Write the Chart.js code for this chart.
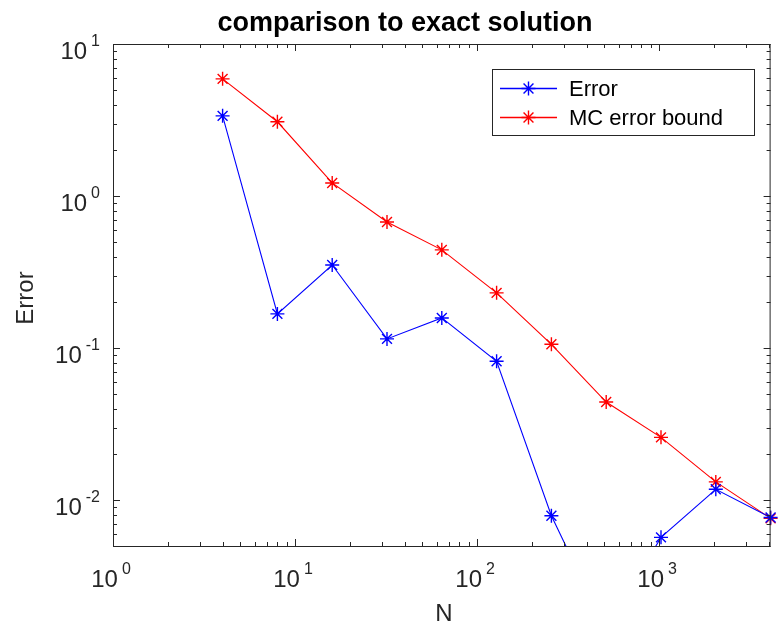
<!DOCTYPE html>
<html>
<head>
<meta charset="utf-8">
<script src="https://cdn.jsdelivr.net/npm/chart.js@4/dist/chart.umd.min.js"></script>
<style>
  html, body { margin: 0; padding: 0; background: #fff; }
  #wrap { width: 779px; height: 625px; }
</style>
</head>
<body>
<div id="wrap"><canvas id="errChart" width="779" height="625"></canvas></div>
<script>
// sample sizes and the two error curves
const nValues = [4, 8, 16, 32, 64, 128, 256, 512, 1024, 2048, 4096];
const errorValues = [3.37, 0.168, 0.352, 0.115, 0.158, 0.082, 0.0079, 0.0014, 0.0057, 0.0118, 0.0077];
const boundValues = [5.9, 3.08, 1.22, 0.676, 0.443, 0.231, 0.106, 0.0442, 0.0259, 0.0132, 0.0076];
const seriesLabels = ['Error', 'MC error bound'];
const seriesColors = ['#0000ff', '#ff0000'];

const xExponents = [0, 1, 2, 3];
const yExponents = [1, 0, -1, -2];
const xRange = [1, 4096];
const yRange = [0.005, 10];

const FONT = '"Liberation Sans", Arial, Helvetica, sans-serif';
const AXIS_COLOR = '#262626';

// "10" with a raised exponent, anchored by align ('center' or 'right')
function drawPow(ctx, exp, x, baseline, align) {
    ctx.font = '24px ' + FONT;
    const baseW = ctx.measureText('10').width;
    ctx.font = '16px ' + FONT;
    const expW = ctx.measureText(String(exp)).width;
    const gap = 4;
    const total = baseW + gap + expW;
    let left = align === 'right' ? x - total : x - total / 2;
    ctx.textAlign = 'left';
    ctx.textBaseline = 'alphabetic';
    ctx.font = '24px ' + FONT;
    ctx.fillText('10', left, baseline);
    ctx.font = '16px ' + FONT;
    ctx.fillText(String(exp), left + baseW + gap, baseline - 13);
}

function logTickValues(lo, hi) {
    const out = [];
    for (let e = Math.floor(Math.log10(lo)); e <= Math.ceil(Math.log10(hi)); e++) {
        for (let m = 1; m <= 9; m++) {
            const v = m * Math.pow(10, e);
            if (v >= lo * 0.9999 && v <= hi * 1.0001) out.push({ v: v, major: m === 1 });
        }
    }
    return out;
}

const axesFrame = {
    id: 'axesFrame',
    afterDraw(chart) {
        const ctx = chart.ctx;
        const a = chart.chartArea;
        const xs = chart.scales.x;
        const ys = chart.scales.y;
        ctx.save();

        // box
        ctx.strokeStyle = AXIS_COLOR;
        ctx.lineWidth = 1;
        ctx.strokeRect(a.left + 0.5, a.top + 0.5, a.right - a.left - 1, a.bottom - a.top);

        // inward ticks on all four sides
        ctx.beginPath();
        logTickValues(xRange[0], xRange[1]).forEach(t => {
            const px = Math.round(xs.getPixelForValue(t.v)) + 0.5;
            const len = t.major ? 7 : 4;
            ctx.moveTo(px, a.bottom); ctx.lineTo(px, a.bottom - len);
            ctx.moveTo(px, a.top); ctx.lineTo(px, a.top + len);
        });
        logTickValues(yRange[0], yRange[1]).forEach(t => {
            const py = Math.round(ys.getPixelForValue(t.v)) + 0.5;
            const len = t.major ? 7 : 4;
            ctx.moveTo(a.left, py); ctx.lineTo(a.left + len, py);
            ctx.moveTo(a.right, py); ctx.lineTo(a.right - len, py);
        });
        ctx.stroke();

        // tick labels
        ctx.fillStyle = AXIS_COLOR;
        xExponents.forEach(e => {
            drawPow(ctx, e, xs.getPixelForValue(Math.pow(10, e)) - 2, a.bottom + 41, 'center');
        });
        yExponents.forEach(e => {
            drawPow(ctx, e, a.left - 13, ys.getPixelForValue(Math.pow(10, e)) + 15, 'right');
        });

        // axis titles
        ctx.font = '24px ' + FONT;
        ctx.textAlign = 'center';
        ctx.textBaseline = 'alphabetic';
        ctx.fillText('N', 444, 621);
        ctx.save();
        ctx.translate(33, 298);
        ctx.rotate(-Math.PI / 2);
        ctx.fillText('Error', 0, 0);
        ctx.restore();

        // title
        ctx.fillStyle = '#000';
        ctx.font = 'bold 27px ' + FONT;
        ctx.fillText('comparison to exact solution', 405, 31);

        // legend
        const box = { x: 492.5, y: 69.5, w: 262, h: 66 };
        ctx.fillStyle = '#fff';
        ctx.fillRect(box.x, box.y, box.w, box.h);
        ctx.strokeStyle = AXIS_COLOR;
        ctx.lineWidth = 1;
        ctx.strokeRect(box.x, box.y, box.w, box.h);
        chart.data.datasets.forEach((ds, i) => {
            const cy = 88.5 + i * 29;
            ctx.strokeStyle = ds.borderColor;
            ctx.lineWidth = 1.3;
            ctx.beginPath();
            ctx.moveTo(500, cy); ctx.lineTo(557, cy);
            ctx.stroke();
            ctx.lineWidth = 1.4;
            Chart.helpers.drawPoint(ctx, { pointStyle: 'star', radius: 7, rotation: 0, borderWidth: 1.4 }, 528.5, cy);
            ctx.fillStyle = '#000';
            ctx.font = '22px ' + FONT;
            ctx.textAlign = 'left';
            ctx.textBaseline = 'middle';
            ctx.fillText(ds.label, 569, cy + 1);
        });
        ctx.restore();
    }
};

function makeSet(label, values, color) {
    return {
        label: label,
        data: nValues.map((n, i) => ({ x: n, y: values[i] })),
        borderColor: color,
        backgroundColor: color,
        borderWidth: 1.1,
        pointStyle: 'star',
        pointRadius: 7,
        pointBorderWidth: 1.4,
        pointBorderColor: color,
        tension: 0,
        clip: { left: 8, top: 8, right: 8, bottom: 0 }
    };
}

new Chart(document.getElementById('errChart'), {
    type: 'line',
    data: {
        datasets: [
            makeSet(seriesLabels[0], errorValues, seriesColors[0]),
            makeSet(seriesLabels[1], boundValues, seriesColors[1])
        ]
    },
    options: {
        responsive: false,
        animation: false,
        layout: { padding: { left: 113, right: 1, top: 44, bottom: 79 } },
        scales: {
            x: { type: 'logarithmic', min: xRange[0], max: xRange[1], display: false },
            y: { type: 'logarithmic', min: yRange[0], max: yRange[1], display: false }
        },
        plugins: {
            legend: { display: false },
            tooltip: { enabled: false },
            title: { display: false }
        }
    },
    plugins: [axesFrame]
});
</script>
</body>
</html>
